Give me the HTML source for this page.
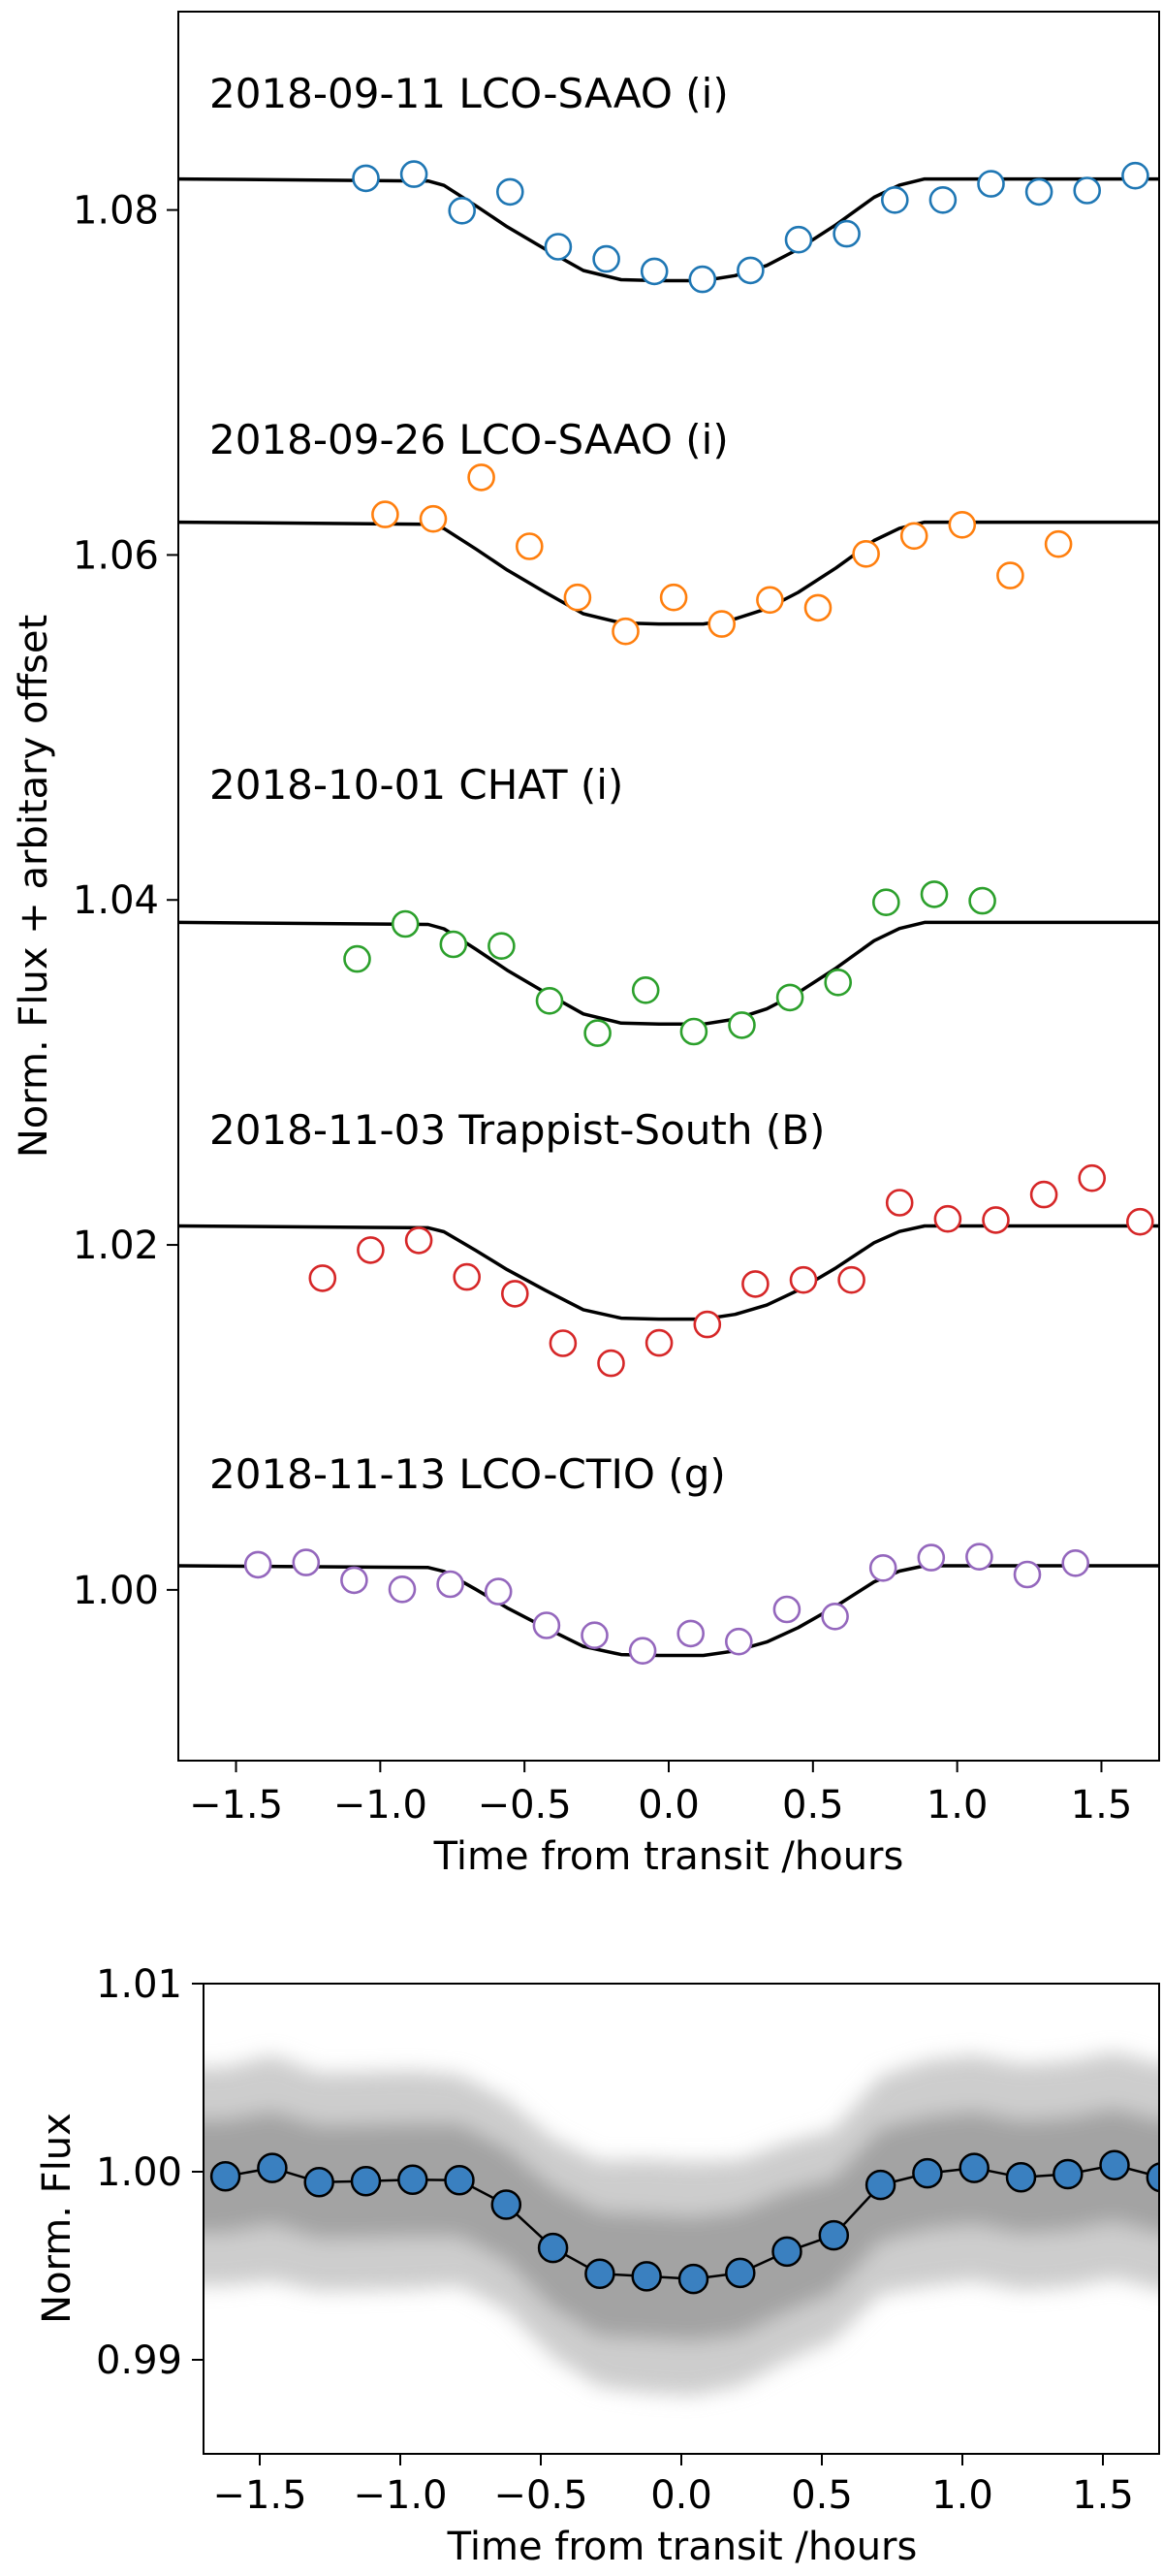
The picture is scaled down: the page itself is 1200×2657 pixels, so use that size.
<!DOCTYPE html>
<html><head><meta charset="utf-8"><style>
html,body{margin:0;padding:0;background:#fff;}
svg{display:block;font-family:"DejaVu Sans","Liberation Sans",sans-serif;}
</style></head><body>
<svg id="fig" width="1200" height="2657" viewBox="0 0 1200 2657" xmlns="http://www.w3.org/2000/svg">
<defs>
<clipPath id="clipTop"><rect x="184" y="12" width="1012" height="1804"/></clipPath>
<clipPath id="clipBot"><rect x="210" y="2046" width="986" height="485"/></clipPath>
<filter id="soft" x="-5%" y="-20%" width="110%" height="140%"><feGaussianBlur stdDeviation="10"/></filter>
</defs>
<g id="topPanel"></g>
<g id="botPanel"></g>
</svg>
<script>
// ---------- data ----------
var modelT = [-1.7,-0.834,-0.779,-0.669,-0.56,-0.428,-0.296,-0.165,-0.034,0.12,0.23,0.34,0.449,0.58,0.712,0.80,0.887,1.7];
var modelFrac = [0,0.02,0.063,0.263,0.47,0.69,0.90,0.99,1.0,1.0,0.95,0.85,0.69,0.45,0.18,0.06,0,0];

var labels = ["2018-09-11 LCO-SAAO (i)","2018-09-26 LCO-SAAO (i)","2018-10-01 CHAT (i)","2018-11-03 Trappist-South (B)","2018-11-13 LCO-CTIO (g)"];
var colors = ["#1f77b4","#ff7f0e","#2ca02c","#d62728","#9467bd"];
var baselines = [1.0818,1.0619,1.0387,1.0211,1.0014];
var depths = [0.0059,0.0059,0.0059,0.0054,0.0052];
var firstTimes = [-1.05,-0.983,-1.08,-1.20,-1.424];
var binStep = 0.1667;
var binBlue = [0.00004,0.00028,-0.00184,-0.00075,-0.00393,-0.00464,-0.00536,-0.00582,-0.0053,-0.00352,-0.00318,-0.00122,-0.00122,-0.00028,-0.00075,-0.00067,0.00019];
var binOrange = [0.00045,0.00019,0.0026,-0.0014,-0.00436,-0.00633,-0.00436,-0.0059,-0.00451,-0.00496,-0.00184,-0.0008,-0.00015,-0.00309,-0.00127];
var binGreen = [-0.00212,-0.00009,-0.00127,-0.00137,-0.00455,-0.00642,-0.00393,-0.00633,-0.00596,-0.00436,-0.00348,0.00116,0.00163,0.00125];
var binRed = [-0.00303,-0.0014,-0.00084,-0.00296,-0.00393,-0.0068,-0.00796,-0.00678,-0.00571,-0.00337,-0.00313,-0.00313,0.00135,0.00041,0.00034,0.00182,0.00277,0.00024];
var binPurple = [0.00006,0.00019,-0.00084,-0.00137,-0.00107,-0.0015,-0.00346,-0.00403,-0.00493,-0.00393,-0.0044,-0.00253,-0.00294,-0.00013,0.00047,0.00052,-0.00051,0.00015];
var topYTicks = [1.00,1.02,1.04,1.06,1.08];
var topYTickLabels = ["1.00","1.02","1.04","1.06","1.08"];
var xTicks = [-1.5,-1.0,-0.5,0.0,0.5,1.0,1.5];
var xTickLabels = ["\u22121.5","\u22121.0","\u22120.5","0.0","0.5","1.0","1.5"];

var combFirst = -1.622;
var combStep = 0.1665;
var combFlux = [0.99975,1.0002,0.99945,0.9995,0.99957,0.99955,0.99825,0.99595,0.99457,0.99444,0.9943,0.99462,0.99575,0.99662,0.9993,0.99992,1.0002,0.9997,0.99987,1.00035,0.9997];
var cloudInnerSpread = [0.003,0.003,0.003,0.003,0.003,0.003,0.003,0.0032,0.0033,0.0033,0.0033,0.0033,0.0032,0.003,0.003,0.003,0.003,0.003,0.003,0.003,0.003];
var cloudOuterSpread = [0.0058,0.006,0.0058,0.0058,0.0058,0.0056,0.0056,0.0058,0.006,0.0062,0.0062,0.006,0.0058,0.0056,0.0058,0.006,0.006,0.006,0.006,0.006,0.006];
var botYTicks = [0.99,1.00,1.01];
var botYTickLabels = ["0.99","1.00","1.01"];

// ---------- helpers ----------
var NS = "http://www.w3.org/2000/svg";
function mk(tag, attrs, parent){ var e=document.createElementNS(NS,tag); for(var k in attrs) e.setAttribute(k,attrs[k]); parent.appendChild(e); return e; }

var TX0=184, TX1=1196, TY0=12, TY1=1816, TXMIN=-1.7, TXMAX=1.7, TYMIN=0.9901, TYMAX=1.0915;
function xT(t){ return TX0+(t-TXMIN)/(TXMAX-TXMIN)*(TX1-TX0); }
function yT(f){ return TY1-(f-TYMIN)/(TYMAX-TYMIN)*(TY1-TY0); }
var BX0=210, BX1=1196, BY0=2046, BY1=2531, BXMIN=-1.7, BXMAX=1.7, BYMIN=0.985, BYMAX=1.01;
function xB(t){ return BX0+(t-BXMIN)/(BXMAX-BXMIN)*(BX1-BX0); }
function yB(f){ return BY1-(f-BYMIN)/(BYMAX-BYMIN)*(BY1-BY0); }

var topG = document.getElementById("topPanel");
var botG = document.getElementById("botPanel");
var binsAll = [binBlue,binOrange,binGreen,binRed,binPurple];
var labelY = [111,468,824,1180,1535];

var topData = mk("g",{"clip-path":"url(#clipTop)"},topG);



for (var p=0;p<5;p++){
  var g = mk("g",{},topData);
  
  
  var d="";
  for (var i=0;i<modelT.length;i++){
    d += (i?"L":"M")+xT(modelT[i]).toFixed(1)+","+yT(baselines[p]-depths[p]*modelFrac[i]).toFixed(1);
  }
  var ml = mk("path",{d:d,fill:"none",stroke:"#000","stroke-width":3.5,"stroke-linejoin":"round"},g);
  
  
  var b = binsAll[p];
  for (var j=0;j<b.length;j++){
    var c = mk("circle",{cx:xT(firstTimes[p]+j*binStep).toFixed(1),cy:yT(baselines[p]+b[j]).toFixed(1),r:13,fill:"#fff",stroke:colors[p],"stroke-width":2.6},g);
    
    
  }
}
for (var p=0;p<5;p++){
  var tl = mk("text",{x:216,y:labelY[p],"font-size":42,fill:"#000"},topG);
  tl.textContent = labels[p];
  
  
}
var fr = mk("rect",{x:TX0,y:TY0,width:TX1-TX0,height:TY1-TY0,fill:"none",stroke:"#000","stroke-width":2},topG);


for (var i=0;i<topYTicks.length;i++){
  var yy=yT(topYTicks[i]);
  var tk=mk("line",{x1:TX0-12,x2:TX0,y1:yy,y2:yy,stroke:"#000","stroke-width":2},topG);
  
  
  var tt=mk("text",{x:TX0-20,y:yy+14,"font-size":40,"text-anchor":"end"},topG);
  tt.textContent=topYTickLabels[i];
  
  
}
for (var i=0;i<xTicks.length;i++){
  var xx=xT(xTicks[i]);
  var tk=mk("line",{x1:xx,x2:xx,y1:TY1,y2:TY1+12,stroke:"#000","stroke-width":2},topG);
  
  
  var tt=mk("text",{x:xx,y:1875,"font-size":40,"text-anchor":"middle"},topG);
  tt.textContent=xTickLabels[i];
  
  
}
var xl=mk("text",{x:690,y:1928,"font-size":40,"text-anchor":"middle"},topG);
xl.textContent="Time from transit /hours";


var yl=mk("text",{x:0,y:0,"font-size":40,"text-anchor":"middle",transform:"translate(48,914) rotate(-90)"},topG);
yl.textContent="Norm. Flux + arbitary offset";



// ---------- bottom ----------
var botData = mk("g",{"clip-path":"url(#clipBot)"},botG);


var cloudG = mk("g",{filter:"url(#soft)"},botData);


function band(spread, fill, op, name){
  var up="", lo="";
  var n=combFlux.length;
  for (var i=0;i<n;i++){ up += "L"+xB(combFirst+i*combStep).toFixed(1)+","+yB(combFlux[i]+spread[i]).toFixed(1); }
  for (var i=n-1;i>=0;i--){ lo += "L"+xB(combFirst+i*combStep).toFixed(1)+","+yB(combFlux[i]-spread[i]).toFixed(1); }
  var dd = "M"+(xB(BXMIN)-30)+","+yB(combFlux[0]+spread[0]).toFixed(1)+up+"L"+(xB(BXMAX)+30)+","+yB(combFlux[n-1]+spread[n-1]).toFixed(1)+"L"+(xB(BXMAX)+30)+","+yB(combFlux[n-1]-spread[n-1]).toFixed(1)+lo+"L"+(xB(BXMIN)-30)+","+yB(combFlux[0]-spread[0]).toFixed(1)+"Z";
  var e=mk("path",{d:dd,fill:fill,"fill-opacity":op,stroke:"none"},cloudG);
  
  
}
band(cloudOuterSpread,"#c4c4c4",0.85,"raw-points-cloud-outer");
band(cloudInnerSpread,"#9c9c9c",0.85,"raw-points-cloud-inner");
var ld="";
for (var i=0;i<combFlux.length;i++){ ld += (i?"L":"M")+xB(combFirst+i*combStep).toFixed(1)+","+yB(combFlux[i]).toFixed(1); }
var cl=mk("path",{d:ld,fill:"none",stroke:"#000","stroke-width":2.5},botData);


for (var i=0;i<combFlux.length;i++){
  var c=mk("circle",{cx:xB(combFirst+i*combStep).toFixed(1),cy:yB(combFlux[i]).toFixed(1),r:14.5,fill:"#3a80c0",stroke:"#000","stroke-width":2.5},botData);
  
  
}
var fr2=mk("rect",{x:BX0,y:BY0,width:BX1-BX0,height:BY1-BY0,fill:"none",stroke:"#000","stroke-width":2},botG);


for (var i=0;i<botYTicks.length;i++){
  var yy=yB(botYTicks[i]);
  var tk=mk("line",{x1:BX0-12,x2:BX0,y1:yy,y2:yy,stroke:"#000","stroke-width":2},botG);
  
  
  var tt=mk("text",{x:BX0-22,y:yy+14,"font-size":40,"text-anchor":"end"},botG);
  tt.textContent=botYTickLabels[i];
  
  
}
for (var i=0;i<xTicks.length;i++){
  var xx=xB(xTicks[i]);
  var tk=mk("line",{x1:xx,x2:xx,y1:BY1,y2:BY1+12,stroke:"#000","stroke-width":2},botG);
  
  
  var tt=mk("text",{x:xx,y:2587,"font-size":40,"text-anchor":"middle"},botG);
  tt.textContent=xTickLabels[i];
  
  
}
var xl2=mk("text",{x:704,y:2640,"font-size":40,"text-anchor":"middle"},botG);
xl2.textContent="Time from transit /hours";


var yl2=mk("text",{x:0,y:0,"font-size":40,"text-anchor":"middle",transform:"translate(72,2288) rotate(-90)"},botG);
yl2.textContent="Norm. Flux";


</script>
</body></html>
